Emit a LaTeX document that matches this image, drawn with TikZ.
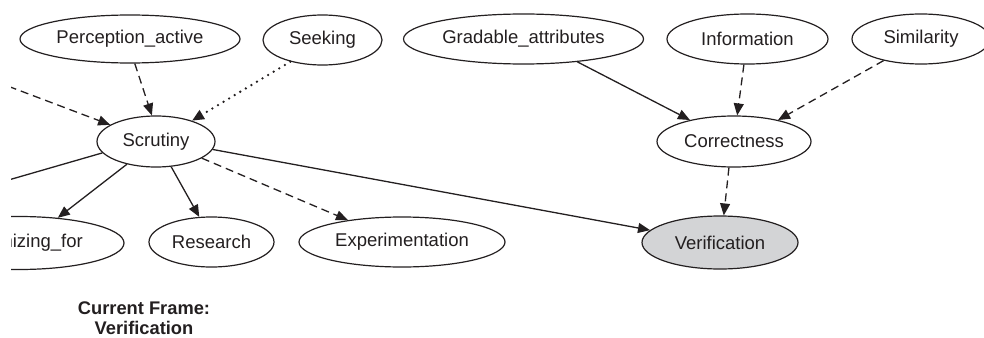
\documentclass[tikz,border=0pt]{standalone}
\usepackage{fontspec}
\setmainfont{Liberation Sans}
\usetikzlibrary{arrows.meta,shapes.geometric}
\definecolor{ink}{HTML}{231F20}
\definecolor{current}{HTML}{D3D4D6}
\begin{document}
\begin{tikzpicture}[x=1pt,y=-1pt,
  frame/.style={ellipse,draw=ink,line width=1.2pt,inner sep=0pt,text=ink,
    font=\fontsize{18.5}{22}\selectfont,minimum height=50pt},
  rel/.style={draw=ink,line width=1.3pt,-{Triangle[length=12pt,width=10pt]}},
  inherit/.style={rel},
  using/.style={rel,dash pattern=on 8pt off 5pt},
  perspective/.style={rel,line width=2.6pt,line cap=round,dash pattern=on 0pt off 6.5pt,
    -{Triangle[length=12pt,width=10pt,line cap=butt]}},
  caption/.style={text=ink,align=center,font=\bfseries\fontsize{18.3}{20}\selectfont}]
\useasboundingbox (0,0) rectangle (984,337);
\begin{scope}
\clip (11,-10) rectangle (990,347);
% top row
\node[frame,minimum width=220pt,minimum height=48pt] (pa) at (130,39) {Perception\_active};
\node[frame,minimum width=119pt] (seek) at (322.5,40) {Seeking};
\node[frame,minimum width=240pt] (grad) at (523.5,39) {Gradable\_attributes};
\node[frame,minimum width=161pt] (info) at (747.5,39) {Information};
\node[frame,minimum width=138pt] (sim) at (921,39) {Similarity};
% middle row
\node[frame,minimum width=118pt,minimum height=51pt] (scr) at (156,141.5) {Scrutiny};
\node[frame,minimum width=154pt,minimum height=51pt] (corr) at (734,141.5) {Correctness};
% bottom row
\node[frame,minimum width=210pt,minimum height=53pt] (sfor) at (19,243) {Scrutinizing\_for};
\node[frame,minimum width=125pt] (res) at (211.5,242) {Research};
\node[frame,minimum width=206pt] (exp) at (402,242) {Experimentation};
\node[frame,fill=current,minimum width=156pt,minimum height=53pt] (ver) at (720,242.5) {Verification};
% neighbours lying beyond the left edge
\coordinate (westin) at (-40,68);
\coordinate (westout) at (-40,194);
% relations around Scrutiny
\draw[using] (pa.-79) -- (scr.99);
\draw[perspective] (seek.-146) -- (scr.30);
\draw[using] (westin) -- (scr.160);
\draw[draw=ink,line width=1.3pt] (scr.-168) -- (westout);
\draw[inherit] (scr.-142) -- (sfor.33);
\draw[inherit] (scr.-59.5) -- (res.116.6);
\draw[using] (scr.-20.6) -- (exp.158);
\draw[inherit] (scr.-8.5) -- (ver.170);
% relations around Correctness
\draw[inherit] (grad.-23) -- (corr.154);
\draw[using] (info.-98) -- (corr.83);
\draw[using] (sim.-150.6) -- (corr.26.6);
\draw[using] (corr.-101) -- (ver.82);
\end{scope}
\node[caption] (cap) at (144,318) {Current Frame:\\Verification};
\end{tikzpicture}
\end{document}
